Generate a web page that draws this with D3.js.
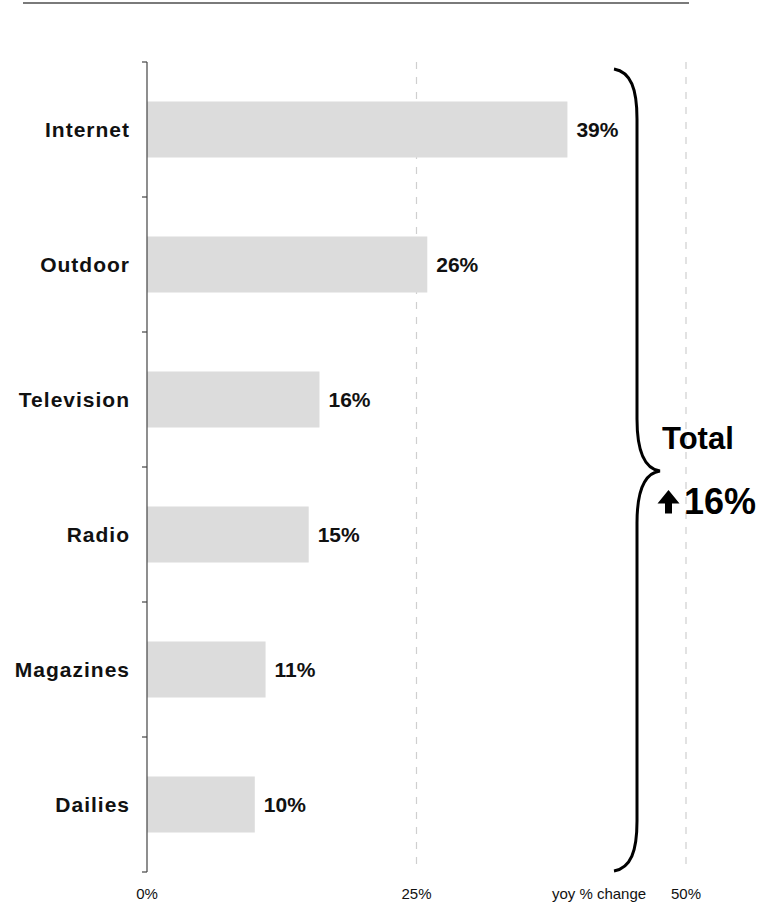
<!DOCTYPE html>
<html>
<head>
<meta charset="utf-8">
<script src="https://cdn.jsdelivr.net/npm/d3@7"></script>
<style>
  html, body { margin: 0; padding: 0; background: #fff; }
  svg { display: block; font-family: "Liberation Sans", Arial, sans-serif; }
</style>
</head>
<body>
<script>
// Year-over-year change in ad spending by medium
const categories = ["Internet", "Outdoor", "Television", "Radio", "Magazines", "Dailies"];
const values = [39, 26, 16, 15, 11, 10];
const tickValues = [0, 25, 50];
const tickLabels = ["0%", "25%", "50%"];
const axisTitle = "yoy % change";
const totalLabel = "Total";
const totalValue = 16;

(function () {
  const W = 760, H = 902;
  const svg = d3.select("body").append("svg").attr("width", W).attr("height", H);

  const x = d3.scaleLinear().domain([0, 50]).range([147, 686]);
  const y = d3.scaleBand().domain(categories).range([62, 872])
    .paddingInner(0.585).paddingOuter(0.2925);

  // rule across the top
  svg.append("line")
    .attr("x1", 23).attr("x2", 689).attr("y1", 3).attr("y2", 3)
    .attr("stroke", "#7a7a7a").attr("stroke-width", 2);

  // dashed gridlines at 25% and 50%
  svg.selectAll("line.grid").data(tickValues.filter(d => d > 0)).join("line")
    .attr("class", "grid")
    .attr("x1", d => x(d)).attr("x2", d => x(d))
    .attr("y1", y.range()[0]).attr("y2", y.range()[1])
    .attr("stroke", "#cfcfcf").attr("stroke-width", 1.2)
    .attr("stroke-dasharray", "7,8");

  // bars
  svg.selectAll("rect.bar").data(values).join("rect")
    .attr("class", "bar")
    .attr("x", x(0))
    .attr("y", (d, i) => y(categories[i]))
    .attr("width", d => x(d) - x(0))
    .attr("height", y.bandwidth())
    .attr("fill", "#dcdcdc");

  // category axis with ticks on band boundaries
  const [y0, y1] = y.range();
  svg.append("line")
    .attr("x1", x(0)).attr("x2", x(0)).attr("y1", y0).attr("y2", y1)
    .attr("stroke", "#444").attr("stroke-width", 1.2);
  svg.selectAll("line.ytick").data(d3.range(categories.length + 1)).join("line")
    .attr("class", "ytick")
    .attr("x1", x(0) - 5).attr("x2", x(0))
    .attr("y1", i => y0 + i * y.step()).attr("y2", i => y0 + i * y.step())
    .attr("stroke", "#444").attr("stroke-width", 1.2);

  // category labels
  svg.selectAll("text.cat").data(categories).join("text")
    .attr("class", "cat")
    .attr("x", 130)
    .attr("y", d => y(d) + y.bandwidth() / 2)
    .attr("dy", "0.36em")
    .attr("text-anchor", "end")
    .attr("font-size", 21).attr("font-weight", "bold")
    .attr("letter-spacing", 1)
    .attr("fill", "#111")
    .text(d => d);

  // value labels
  svg.selectAll("text.val").data(values).join("text")
    .attr("class", "val")
    .attr("x", d => x(d) + 9)
    .attr("y", (d, i) => y(categories[i]) + y.bandwidth() / 2)
    .attr("dy", "0.36em")
    .attr("font-size", 21).attr("font-weight", "bold")
    .attr("fill", "#111")
    .text(d => d + "%");

  // x tick labels and title
  svg.selectAll("text.xtick").data(tickValues).join("text")
    .attr("class", "xtick")
    .attr("x", d => x(d)).attr("y", 899)
    .attr("text-anchor", "middle")
    .attr("font-size", 15).attr("fill", "#111")
    .text((d, i) => tickLabels[i]);
  svg.append("text")
    .attr("x", 599).attr("y", 899)
    .attr("text-anchor", "middle")
    .attr("font-size", 15).attr("fill", "#111")
    .text(axisTitle);

  // curly brace grouping all media
  const bx = 637, tipX = 660, yTop = 69, yBot = 871, yMid = 471;
  svg.append("path")
    .attr("d", `M614,${yTop} C631,${yTop + 3} ${bx},${yTop + 20} ${bx},${yTop + 50}
                L${bx},${yMid - 52} C${bx},${yMid - 18} ${bx + 8},${yMid - 2} ${tipX},${yMid}
                C${bx + 8},${yMid + 2} ${bx},${yMid + 18} ${bx},${yMid + 52}
                L${bx},${yBot - 50} C${bx},${yBot - 20} 631,${yBot - 3} 614,${yBot}`)
    .attr("fill", "none").attr("stroke", "#000").attr("stroke-width", 3);

  // total annotation
  svg.append("text")
    .attr("x", 662).attr("y", 449)
    .attr("font-size", 31).attr("font-weight", "bold").attr("fill", "#000")
    .text(totalLabel);

  // upward arrow
  svg.append("path")
    .attr("d", "M668.5,490 L679.5,503.5 L672,503.5 L672,513.5 L665,513.5 L665,503.5 L657.5,503.5 Z")
    .attr("fill", "#000");

  svg.append("text")
    .attr("x", 684).attr("y", 513.5)
    .attr("font-size", 36).attr("font-weight", "bold").attr("fill", "#000")
    .text(totalValue + "%");
})();
</script>
</body>
</html>
